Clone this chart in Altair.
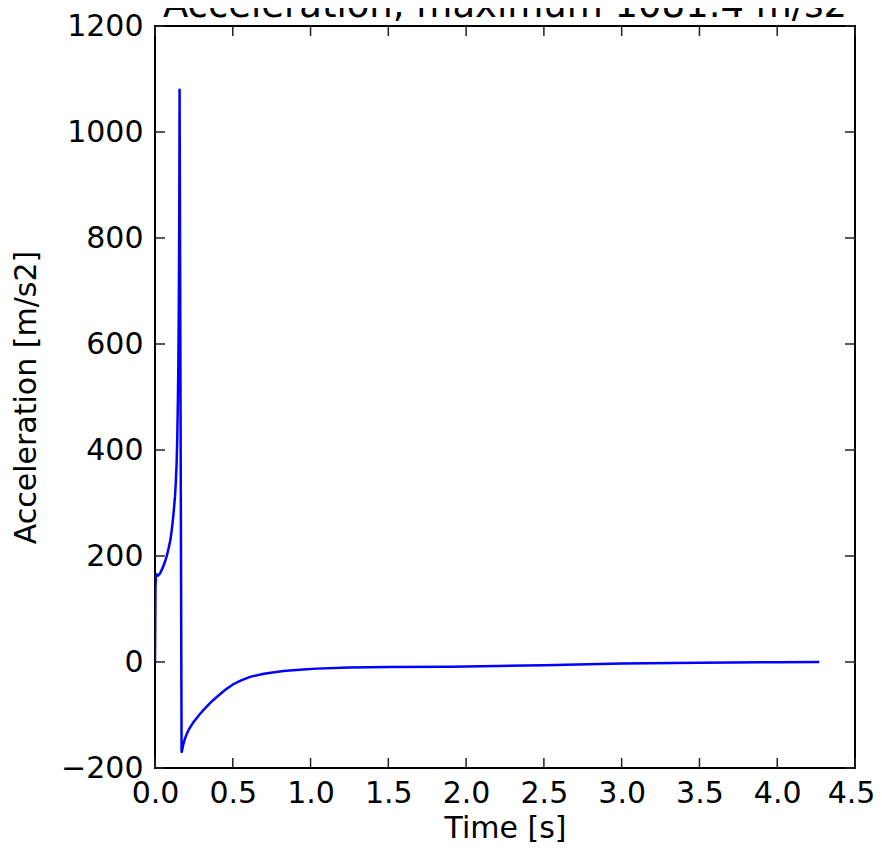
import altair as alt
import pandas as pd

# Data
time_s = [0.000, 0.003, 0.006, 0.012, 0.020, 0.032, 0.050, 0.065, 0.075, 0.090,
          0.100, 0.107, 0.115, 0.120, 0.1285, 0.134, 0.139, 0.143, 0.147, 0.150,
          0.152, 0.154, 0.156, 0.1572, 0.158, 0.171, 0.180, 0.190, 0.204, 0.220,
          0.246, 0.270, 0.289, 0.320, 0.343, 0.370, 0.397, 0.450, 0.503, 0.550,
          0.611, 0.700, 0.825, 0.950, 1.040, 1.250, 1.500, 1.900, 2.200, 2.500,
          3.000, 3.500, 4.000, 4.270]
accel = [0, 140, 163, 165, 163, 167, 178, 190, 199, 218,
         232, 248, 268, 283, 312, 340, 375, 420, 490, 560,
         630, 720, 850, 980, 1081.4, -171, -158, -147, -136, -126,
         -114, -105, -98, -88, -81, -73, -66, -53, -42, -35,
         -28, -22, -17, -14, -12.5, -10.5, -9.5, -9, -7.5, -6,
         -3, -1.5, -0.5, 0]

x_ticks = [0.0, 0.5, 1.0, 1.5, 2.0, 2.5, 3.0, 3.5, 4.0, 4.5]
y_ticks = [-200, 0, 200, 400, 600, 800, 1000, 1200]

title_text = "Acceleration, maximum 1081.4 m/s2"

df = pd.DataFrame({"t": time_s, "a": accel})
dfx = pd.DataFrame({"xt": x_ticks})
dfy = pd.DataFrame({"yt": y_ticks})
dft = pd.DataFrame({"label": [title_text]})

W, H = 700, 742
FONT = "DejaVu Sans"

xscale = alt.Scale(domain=[0, 4.5], nice=False, zero=False)
yscale = alt.Scale(domain=[-200, 1200], nice=False, zero=False)

line = alt.Chart(df).mark_line(color="#0000ff", strokeWidth=2.5, clip=True).encode(
    x=alt.X("t:Q", scale=xscale,
            axis=alt.Axis(values=x_ticks, format=".1f", title="Time [s]",
                          ticks=False, domain=False, grid=False,
                          labelFontSize=30, labelFont=FONT, labelColor="black",
                          labelPadding=10, titleFontSize=30, titleFont=FONT,
                          titleFontWeight="normal", titleColor="black", titlePadding=5,
                          labelFlush=False,
                          labelOffset={"condition": {"test": "datum.value == 4.5", "value": -4},
                                       "value": 0})),
    y=alt.Y("a:Q", scale=yscale,
            axis=alt.Axis(values=y_ticks, format="d", title="Acceleration [m/s2]",
                          ticks=False, domain=False, grid=False,
                          labelFontSize=30, labelFont=FONT, labelColor="black",
                          labelPadding=12, titleFontSize=30, titleFont=FONT,
                          titleFontWeight="normal", titleColor="black", titlePadding=19,
                          labelFlush=False)),
)

tick_style = dict(color="#222222", strokeWidth=1.5)
xt_bottom = alt.Chart(dfx).mark_rule(**tick_style).encode(
    x=alt.X("xt:Q", scale=xscale), y=alt.value(H), y2=alt.value(H - 10))
xt_top = alt.Chart(dfx).mark_rule(**tick_style).encode(
    x=alt.X("xt:Q", scale=xscale), y=alt.value(0), y2=alt.value(10))
yt_left = alt.Chart(dfy).mark_rule(**tick_style).encode(
    y=alt.Y("yt:Q", scale=yscale), x=alt.value(0), x2=alt.value(10))
yt_right = alt.Chart(dfy).mark_rule(**tick_style).encode(
    y=alt.Y("yt:Q", scale=yscale), x=alt.value(W), x2=alt.value(W - 10))

title = alt.Chart(dft).mark_text(
    font=FONT, fontSize=37, color="black", align="center", baseline="alphabetic"
).encode(text="label:N", x=alt.value(W / 2), y=alt.value(-9))

chart = alt.layer(xt_bottom, xt_top, yt_left, yt_right, line, title).properties(
    width=W, height=H,
    autosize=alt.AutoSizeParams(type="none"),
    padding={"left": 147, "top": 18, "right": 19, "bottom": 76},
).configure(background="white").configure_view(stroke="black", strokeWidth=2)

chart.save("out.html", embed_options={"renderer": "svg", "actions": False})
